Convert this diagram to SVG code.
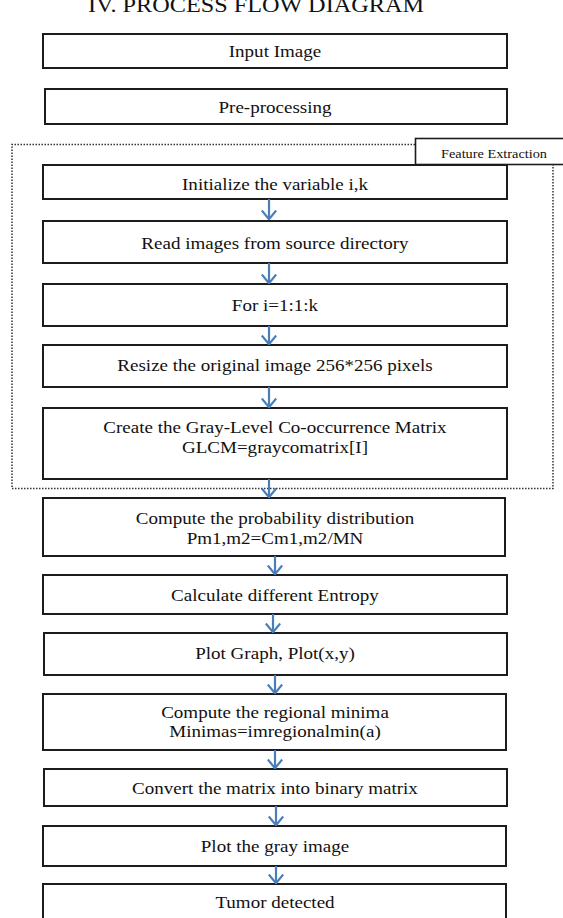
<svg xmlns="http://www.w3.org/2000/svg" width="563" height="918" viewBox="0 0 563 918">
  <style>
    .box { fill: #ffffff; stroke: #1c1c1c; stroke-width: 2; }
    .t { font-family: "Liberation Serif", "Times New Roman", serif; font-size: 17px; fill: #111111; text-anchor: middle; transform: scaleX(1.12); transform-origin: 275px 0px; }
    .title { font-family: "Liberation Serif", "Times New Roman", serif; font-size: 21.4px; fill: #111111; text-anchor: middle; }
    .tab-label { font-family: "Liberation Serif", "Times New Roman", serif; font-size: 11.5px; fill: #111111; text-anchor: middle; }
    .frame { fill: none; stroke: #333333; stroke-width: 1.5; stroke-dasharray: 1.5 1.5; }
    .tab { fill: #ffffff; stroke: #1c1c1c; stroke-width: 1.6; }
    .flow { fill: none; stroke: #4a7ebb; stroke-width: 2.2; marker-end: url(#vhead); }
  </style>
  <defs>
    <marker id="vhead" viewBox="0 0 10 16" refX="9.5" refY="8" markerWidth="10" markerHeight="16" orient="auto" markerUnits="userSpaceOnUse">
      <path d="M0.5,0.8 L9.2,8 L0.5,15.2" fill="none" stroke="#4a7ebb" stroke-width="2.2"/>
    </marker>
  </defs>

  <rect width="563" height="918" fill="#ffffff"/>

  <!-- section heading, partly above the page edge -->
  <text class="title" x="256" y="12" textLength="336" lengthAdjust="spacingAndGlyphs">IV. PROCESS FLOW DIAGRAM</text>

  <!-- feature extraction frame and its tab -->
  <g id="feature-extraction">
    <path class="frame" d="M415,144.5 H12 V488.5 H553 V164.5"/>
    <rect class="tab" x="415.5" y="138.5" width="160" height="26"/>
    <text class="tab-label" x="494" y="157.5" textLength="106" lengthAdjust="spacingAndGlyphs">Feature Extraction</text>
  </g>

  <g id="input-image">
    <rect class="box" x="43" y="34" width="464" height="34"/>
    <text class="t" x="275" y="57">Input Image</text>
  </g>
  <g id="pre-processing">
    <rect class="box" x="45" y="89" width="462" height="35"/>
    <text class="t" x="275" y="113">Pre-processing</text>
  </g>
  <g id="init-vars">
    <rect class="box" x="43" y="165" width="464" height="34"/>
    <text class="t" x="275" y="190">Initialize the variable i,k</text>
  </g>
  <g id="read-images">
    <rect class="box" x="43" y="221" width="464" height="42"/>
    <text class="t" x="275" y="249">Read images from source directory</text>
  </g>
  <g id="for-loop">
    <rect class="box" x="43" y="284" width="464" height="42"/>
    <text class="t" x="275" y="311">For i=1:1:k</text>
  </g>
  <g id="resize">
    <rect class="box" x="43" y="345" width="464" height="42"/>
    <text class="t" x="275" y="371">Resize the original image 256*256 pixels</text>
  </g>
  <g id="glcm">
    <rect class="box" x="43" y="408" width="464" height="71"/>
    <text class="t" x="275" y="433">Create the Gray-Level Co-occurrence Matrix</text>
    <text class="t" x="275" y="453">GLCM=graycomatrix[I]</text>
  </g>
  <g id="probability">
    <rect class="box" x="43" y="498" width="462" height="58"/>
    <text class="t" x="275" y="524">Compute the probability distribution</text>
    <text class="t" x="275" y="544">Pm1,m2=Cm1,m2/MN</text>
  </g>
  <g id="entropy">
    <rect class="box" x="43" y="575" width="464" height="39"/>
    <text class="t" x="275" y="601">Calculate different Entropy</text>
  </g>
  <g id="plot-graph">
    <rect class="box" x="44" y="633" width="463" height="42"/>
    <text class="t" x="275" y="659">Plot Graph, Plot(x,y)</text>
  </g>
  <g id="regional-minima">
    <rect class="box" x="43" y="694" width="463" height="56"/>
    <text class="t" x="275" y="718">Compute the regional minima</text>
    <text class="t" x="275" y="737">Minimas=imregionalmin(a)</text>
  </g>
  <g id="binary-matrix">
    <rect class="box" x="44" y="769" width="463" height="37"/>
    <text class="t" x="275" y="794">Convert the matrix into binary matrix</text>
  </g>
  <g id="plot-gray">
    <rect class="box" x="43" y="826" width="463" height="40"/>
    <text class="t" x="275" y="852">Plot the gray image</text>
  </g>
  <g id="tumor-detected">
    <rect class="box" x="43" y="884" width="463" height="44"/>
    <text class="t" x="275" y="908">Tumor detected</text>
  </g>

  <!-- connectors -->
  <g id="connectors">
    <path class="flow" d="M269,199 V219.5"/>
    <path class="flow" d="M269,263 V283.5"/>
    <path class="flow" d="M269,326 V344.5"/>
    <path class="flow" d="M269,387 V407.5"/>
    <path class="flow" d="M269,479 V497.5"/>
    <path class="flow" d="M275,556 V574.5"/>
    <path class="flow" d="M273,614 V632.5"/>
    <path class="flow" d="M275,675 V693.5"/>
    <path class="flow" d="M275,750 V768.5"/>
    <path class="flow" d="M276,806 V825.5"/>
    <path class="flow" d="M276,866 V883.5"/>
  </g>
</svg>
